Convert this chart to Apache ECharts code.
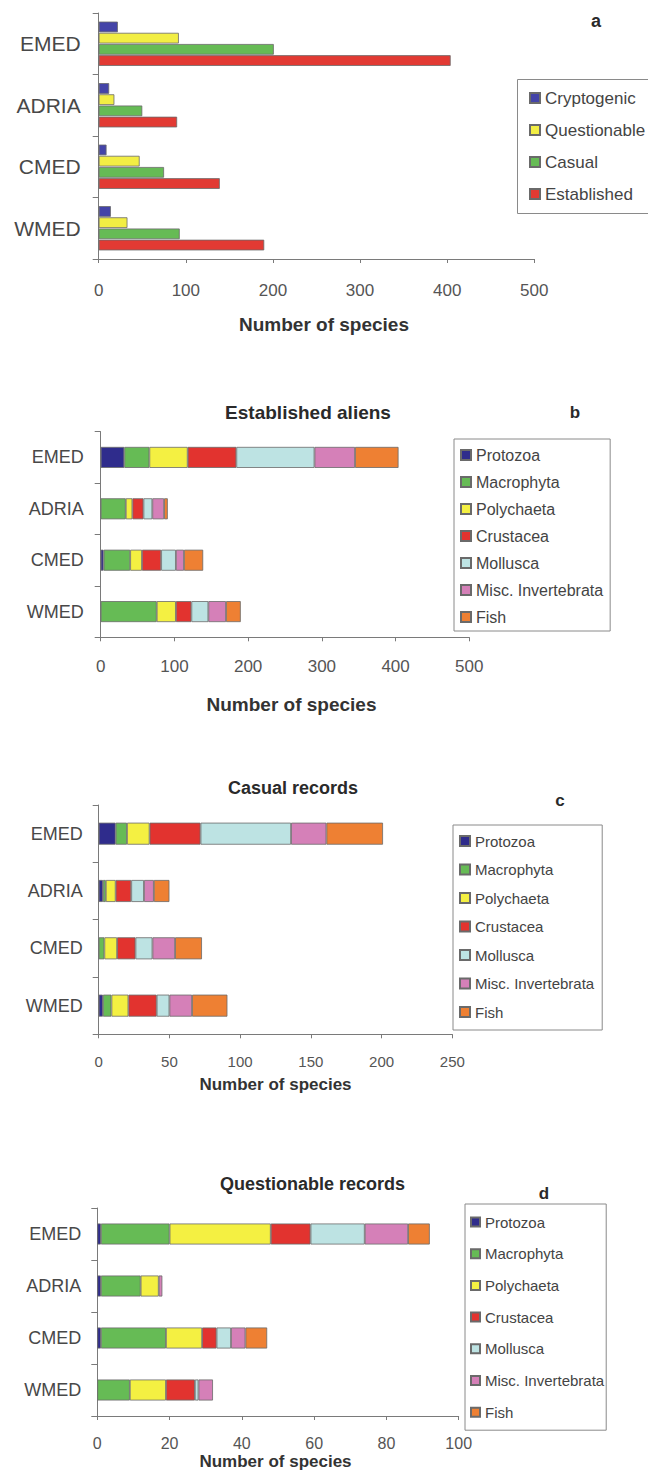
<!DOCTYPE html>
<html><head><meta charset="utf-8">
<script src="https://cdn.jsdelivr.net/npm/echarts@6/dist/echarts.min.js"></script>
<style>html,body{margin:0;padding:0;background:#fff}#c{width:648px;height:1471px}</style>
</head><body><div id="c"></div>
<script>
// ---------- data ----------
const regions = ['EMED', 'ADRIA', 'CMED', 'WMED'];

// panel a: records by status
const statusNames = ['Cryptogenic', 'Questionable', 'Casual', 'Established'];
const cryptogenic  = [22, 12, 9, 14];
const questionable = [92, 18, 47, 33];
const casual       = [201, 50, 75, 93];
const established  = [404, 90, 139, 190];

// taxa (panels b, c, d)
const taxa = ['Protozoa', 'Macrophyta', 'Polychaeta', 'Crustacea', 'Mollusca', 'Misc. Invertebrata', 'Fish'];

// panel b: Established aliens
const estProtozoa   = [32, 0, 4, 0];
const estMacrophyta = [34, 34, 36, 76];
const estPolychaeta = [52, 9, 16, 26];
const estCrustacea  = [66, 15, 26, 21];
const estMollusca   = [106, 12, 20, 23];
const estMiscInv    = [55, 16, 11, 24];
const estFish       = [59, 5, 26, 20];

// panel c: Casual records
const casProtozoa   = [12, 3, 0, 3];
const casMacrophyta = [8, 2, 4, 6];
const casPolychaeta = [16, 7, 9, 12];
const casCrustacea  = [36, 11, 13, 20];
const casMollusca   = [64, 9, 12, 9];
const casMiscInv    = [25, 7, 16, 16];
const casFish       = [40, 11, 19, 25];

// panel d: Questionable records
const queProtozoa   = [1, 1, 1, 0];
const queMacrophyta = [19, 11, 18, 9];
const quePolychaeta = [28, 5, 10, 10];
const queCrustacea  = [11, 0, 4, 8];
const queMollusca   = [15, 0, 4, 1];
const queMiscInv    = [12, 1, 4, 4];
const queFish       = [6, 0, 6, 0];

// axis tick settings [max, interval]
const axisA = [500, 100];
const axisB = [500, 100];
const axisC = [250, 50];
const axisD = [100, 20];

const axisTitle = 'Number of species';
const panelTitles = ['Established aliens', 'Casual records', 'Questionable records'];
const panelLetters = ['a', 'b', 'c', 'd'];

// ---------- styles ----------
const FONT = '"Liberation Sans", Arial, Helvetica, sans-serif';
const statusColors = ['#4444a8', '#f2ee44', '#66bb55', '#e23a33'];
const taxaColors = ['#2f2c8c', '#66bb55', '#f4f042', '#e2332f', '#bde3e3', '#d580b8', '#ee8033'];
const BORDER = '#6a6a6a';
const AXIS = '#7a7a7a';

const grids = [
  { left: 98.7, top: 13, width: 435.6, height: 246 },
  { left: 100.7, top: 431.7, width: 368.6, height: 205.6 },
  { left: 98.7, top: 805, width: 353.6, height: 229.3 },
  { left: 97.3, top: 1208, width: 361.4, height: 208 }
];

function yAx(gi, fs, margin) {
  return {
    type: 'category', gridIndex: gi, data: regions, inverse: true,
    axisLine: { show: true, lineStyle: { color: AXIS, width: 1 } },
    axisTick: { show: true, length: 6, lineStyle: { color: AXIS } },
    axisLabel: { fontSize: fs, color: '#484848', margin: margin, fontFamily: FONT },
    splitLine: { show: false }
  };
}
function xAx(gi, ax, fs, margin, nameGap, nameFs, namePad) {
  return {
    type: 'value', gridIndex: gi, min: 0, max: ax[0], interval: ax[1], position: 'bottom',
    axisLine: { show: true, onZero: false, lineStyle: { color: AXIS, width: 1 } },
    axisTick: { show: true, length: 4, lineStyle: { color: AXIS } },
    splitLine: { show: false },
    axisLabel: { fontSize: fs, color: '#555', margin: margin, fontFamily: FONT },
    name: axisTitle, nameLocation: 'middle', nameGap: nameGap,
    nameTextStyle: { fontSize: nameFs, fontWeight: 'bold', color: '#333', fontFamily: FONT, padding: namePad }
  };
}

const series = [];
[cryptogenic, questionable, casual, established].forEach((arr, i) => {
  series.push({
    type: 'bar', name: statusNames[i], xAxisIndex: 0, yAxisIndex: 0, data: arr,
    barCategoryGap: '28%', barGap: '5%',
    itemStyle: { color: statusColors[i], borderColor: BORDER, borderWidth: 0.8 }
  });
});

function addStack(gi, table, barWidth) {
  table.forEach((arr, i) => {
    series.push({
      type: 'bar', name: taxa[i], stack: 'panel' + gi, xAxisIndex: gi, yAxisIndex: gi,
      barWidth: barWidth,
      data: arr.map(v => (v === 0 ? null : v)),
      itemStyle: { color: taxaColors[i], borderColor: BORDER, borderWidth: 0.8 }
    });
  });
}
addStack(1, [estProtozoa, estMacrophyta, estPolychaeta, estCrustacea, estMollusca, estMiscInv, estFish], 21);
addStack(2, [casProtozoa, casMacrophyta, casPolychaeta, casCrustacea, casMollusca, casMiscInv, casFish], 22);
addStack(3, [queProtozoa, queMacrophyta, quePolychaeta, queCrustacea, queMollusca, queMiscInv, queFish], 21);

function legend(data, left, top, pad, gap, fs, lh, iw, textGap, bw) {
  return {
    data: data, orient: 'vertical', left: left, top: top, padding: pad, itemGap: gap,
    icon: 'rect', itemWidth: iw, itemHeight: iw, itemTextGap: textGap, selectedMode: false,
    borderColor: '#8a8a8a', borderWidth: bw, borderRadius: 0,
    textStyle: { fontSize: fs, color: '#444', lineHeight: lh, fontFamily: FONT }
  };
}

function ttl(text, x, y, fs) {
  return {
    text: text, left: x, top: y, textAlign: 'center', textVerticalAlign: 'middle', padding: 0,
    textStyle: { fontSize: fs, fontWeight: 'bold', color: '#2a2a2a', fontFamily: FONT }
  };
}

const option = {
  animation: false,
  backgroundColor: '#fff',
  textStyle: { fontFamily: FONT },
  title: [
    ttl(panelLetters[0], 596, 21, 18),
    ttl(panelTitles[0], 308, 412, 19),
    ttl(panelLetters[1], 575, 412, 17),
    ttl(panelTitles[1], 293, 788, 18),
    ttl(panelLetters[2], 560, 800, 17),
    ttl(panelTitles[2], 312.5, 1184, 18),
    ttl(panelLetters[3], 544, 1193, 17)
  ],
  grid: grids,
  xAxis: [
    xAx(0, axisA, 17, 23, 56, 19, [0, 0, 0, 15]),
    xAx(1, axisB, 17, 21, 58, 19, [0, 0, 0, 13]),
    xAx(2, axisC, 15, 20, 42, 17, [0, 0, 0, 0]),
    xAx(3, axisD, 16, 19, 37, 17, [0, 5, 0, 0])
  ],
  yAxis: [yAx(0, 21, 18), yAx(1, 18, 17), yAx(2, 18, 16), yAx(3, 18, 16)],
  legend: [
    legend(statusNames, 517, 79, [9, 12, 10, 12], 12, 17, 20, 10, 4, 0),
    legend(taxa, 454, 439, [7, 7, 5, 6], 9, 16, 18, 10, 5, 1),
    legend(taxa, 453, 825, [7, 8, 9, 6], 10.5, 15, 18, 10, 5, 1),
    legend(taxa, 465, 1204, [9, 2, 9, 5], 13.7, 15, 18, 9, 4, 1)
  ],
  // frame of legend (a), which runs off the right edge in the original figure
  graphic: [{
    type: 'rect', z: -1, silent: true,
    shape: { x: 517.5, y: 79.5, width: 170, height: 134 },
    style: { fill: 'none', stroke: '#8a8a8a', lineWidth: 1 }
  }],
  series: series
};

const chart = echarts.init(document.getElementById('c'), null, { renderer: 'svg', width: 648, height: 1471 });
chart.setOption(option);
</script>
</body></html>
